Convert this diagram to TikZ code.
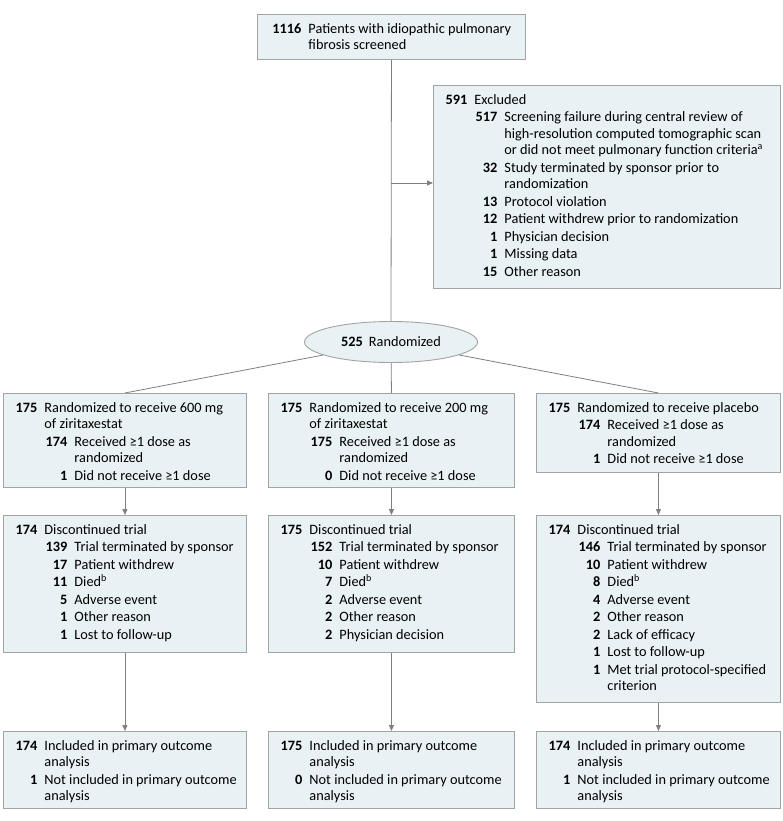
\documentclass[tikz,border=0pt]{standalone}
\usepackage{fontspec}
\setmainfont{Carlito}
\usetikzlibrary{arrows.meta,shapes.geometric}
\definecolor{fillc}{HTML}{E8F1F3}
\definecolor{bordc}{HTML}{A3A3A3}
\definecolor{linec}{HTML}{7F7F7F}
\newcommand{\BX}[3]{\parbox[c][#2][t]{#1}{\fontsize{14.3pt}{16.5pt}\selectfont\setlength{\parskip}{1pt}\rightskip=0pt plus 1fil\relax #3}}
\newcommand{\First}{\rule{0pt}{19pt}}
\newcommand{\Lone}[3][34pt]{\par\noindent\hangindent=\dimexpr#1+7pt\relax\hangafter=1\makebox[#1][r]{\bfseries #2}\hspace{7pt}#3}
\newcommand{\Ltwo}[2]{\par\noindent\hangindent=71pt\hangafter=1\hspace*{41pt}\makebox[23pt][r]{\bfseries #1}\hspace{7pt}#2}
\tikzset{
  box/.style={draw=bordc, fill=fillc, line width=0.9pt, inner sep=0pt, anchor=north west},
  conn/.style={draw=linec, line width=0.8pt},
  arr/.style={conn, -{Triangle[length=6pt,width=5pt]}}
}
\begin{document}
\begin{tikzpicture}[x=1pt,y=1pt]
\useasboundingbox (0,0) rectangle (783,-821);
% top box
\node[box] (top) at (257,-14) {\BX{268pt}{45pt}{\Lone[44pt]{\First 1116}{Patients with idiopathic pulmonary\\fibrosis screened}}};
% excluded
\node[box] (excl) at (433,-85) {\BX{347pt}{203pt}{%
\Lone{\First 591}{Excluded}%
\Ltwo{517}{Screening failure during central review of\\high-resolution computed tomographic scan\\or did not meet pulmonary function criteria\textsuperscript{a}}%
\Ltwo{32}{Study terminated by sponsor prior to\\randomization}%
\Ltwo{13}{Protocol violation}%
\Ltwo{12}{Patient withdrew prior to randomization}%
\Ltwo{1}{Physician decision}%
\Ltwo{1}{Missing data}%
\Ltwo{15}{Other reason}}};
% randomized
\node[ellipse, draw=bordc, fill=fillc, line width=0.9pt, minimum width=173pt, minimum height=41pt, inner sep=0pt, font=\fontsize{14.3pt}{16.5pt}\selectfont] (ell) at (391,-342) {\textbf{525}\hspace{6pt}Randomized};
% row 1
\node[box] (r1a) at (3,-393) {\BX{243pt}{94pt}{%
\Lone{\First 175}{Randomized to receive 600 mg\\of ziritaxestat}%
\Ltwo{174}{Received ≥1 dose as\\randomized}%
\Ltwo{1}{Did not receive ≥1 dose}}};
\node[box] (r1b) at (268,-393) {\BX{246pt}{94pt}{%
\Lone{\First 175}{Randomized to receive 200 mg\\of ziritaxestat}%
\Ltwo{175}{Received ≥1 dose as\\randomized}%
\Ltwo{0}{Did not receive ≥1 dose}}};
\node[box] (r1c) at (536,-393) {\BX{244pt}{79pt}{%
\Lone{\First 175}{Randomized to receive placebo}%
\Ltwo{174}{Received ≥1 dose as\\randomized}%
\Ltwo{1}{Did not receive ≥1 dose}}};
% row 2
\node[box] (r2a) at (3,-515) {\BX{243pt}{137pt}{%
\Lone{\First 174}{Discontinued trial}%
\Ltwo{139}{Trial terminated by sponsor}%
\Ltwo{17}{Patient withdrew}%
\Ltwo{11}{Died\textsuperscript{b}}%
\Ltwo{5}{Adverse event}%
\Ltwo{1}{Other reason}%
\Ltwo{1}{Lost to follow-up}}};
\node[box] (r2b) at (268,-515) {\BX{246pt}{137pt}{%
\Lone{\First 175}{Discontinued trial}%
\Ltwo{152}{Trial terminated by sponsor}%
\Ltwo{10}{Patient withdrew}%
\Ltwo{7}{Died\textsuperscript{b}}%
\Ltwo{2}{Adverse event}%
\Ltwo{2}{Other reason}%
\Ltwo{2}{Physician decision}}};
\node[box] (r2c) at (536,-515) {\BX{244pt}{187pt}{%
\Lone{\First 174}{Discontinued trial}%
\Ltwo{146}{Trial terminated by sponsor}%
\Ltwo{10}{Patient withdrew}%
\Ltwo{8}{Died\textsuperscript{b}}%
\Ltwo{4}{Adverse event}%
\Ltwo{2}{Other reason}%
\Ltwo{2}{Lack of efficacy}%
\Ltwo{1}{Lost to follow-up}%
\Ltwo{1}{Met trial protocol-specified\\criterion}}};
% row 3
\node[box] (r3a) at (3,-731) {\BX{243pt}{77pt}{%
\Lone{\First 174}{Included in primary outcome\\analysis}%
\Lone{1}{Not included in primary outcome\\analysis}}};
\node[box] (r3b) at (268,-731) {\BX{246pt}{77pt}{%
\Lone{\First 175}{Included in primary outcome\\analysis}%
\Lone{0}{Not included in primary outcome\\analysis}}};
\node[box] (r3c) at (536,-731) {\BX{244pt}{77pt}{%
\Lone{\First 174}{Included in primary outcome\\analysis}%
\Lone{1}{Not included in primary outcome\\analysis}}};
% connectors
\draw[conn] (top.south) -- (ell.north);
\coordinate (br) at (391,-183);
\draw[arr] (br) -- (excl.west |- br);
\draw[conn] (ell) -- (r1a.north);
\draw[conn] (ell) -- (r1b.north);
\draw[conn] (ell) -- (r1c.north);
\draw[arr] (r1a.south) -- (r2a.north);
\draw[arr] (r1b.south) -- (r2b.north);
\draw[arr] (r1c.south) -- (r2c.north);
\draw[arr] (r2a.south) -- (r3a.north);
\draw[arr] (r2b.south) -- (r3b.north);
\draw[arr] (r2c.south) -- (r3c.north);
\end{tikzpicture}
\end{document}
